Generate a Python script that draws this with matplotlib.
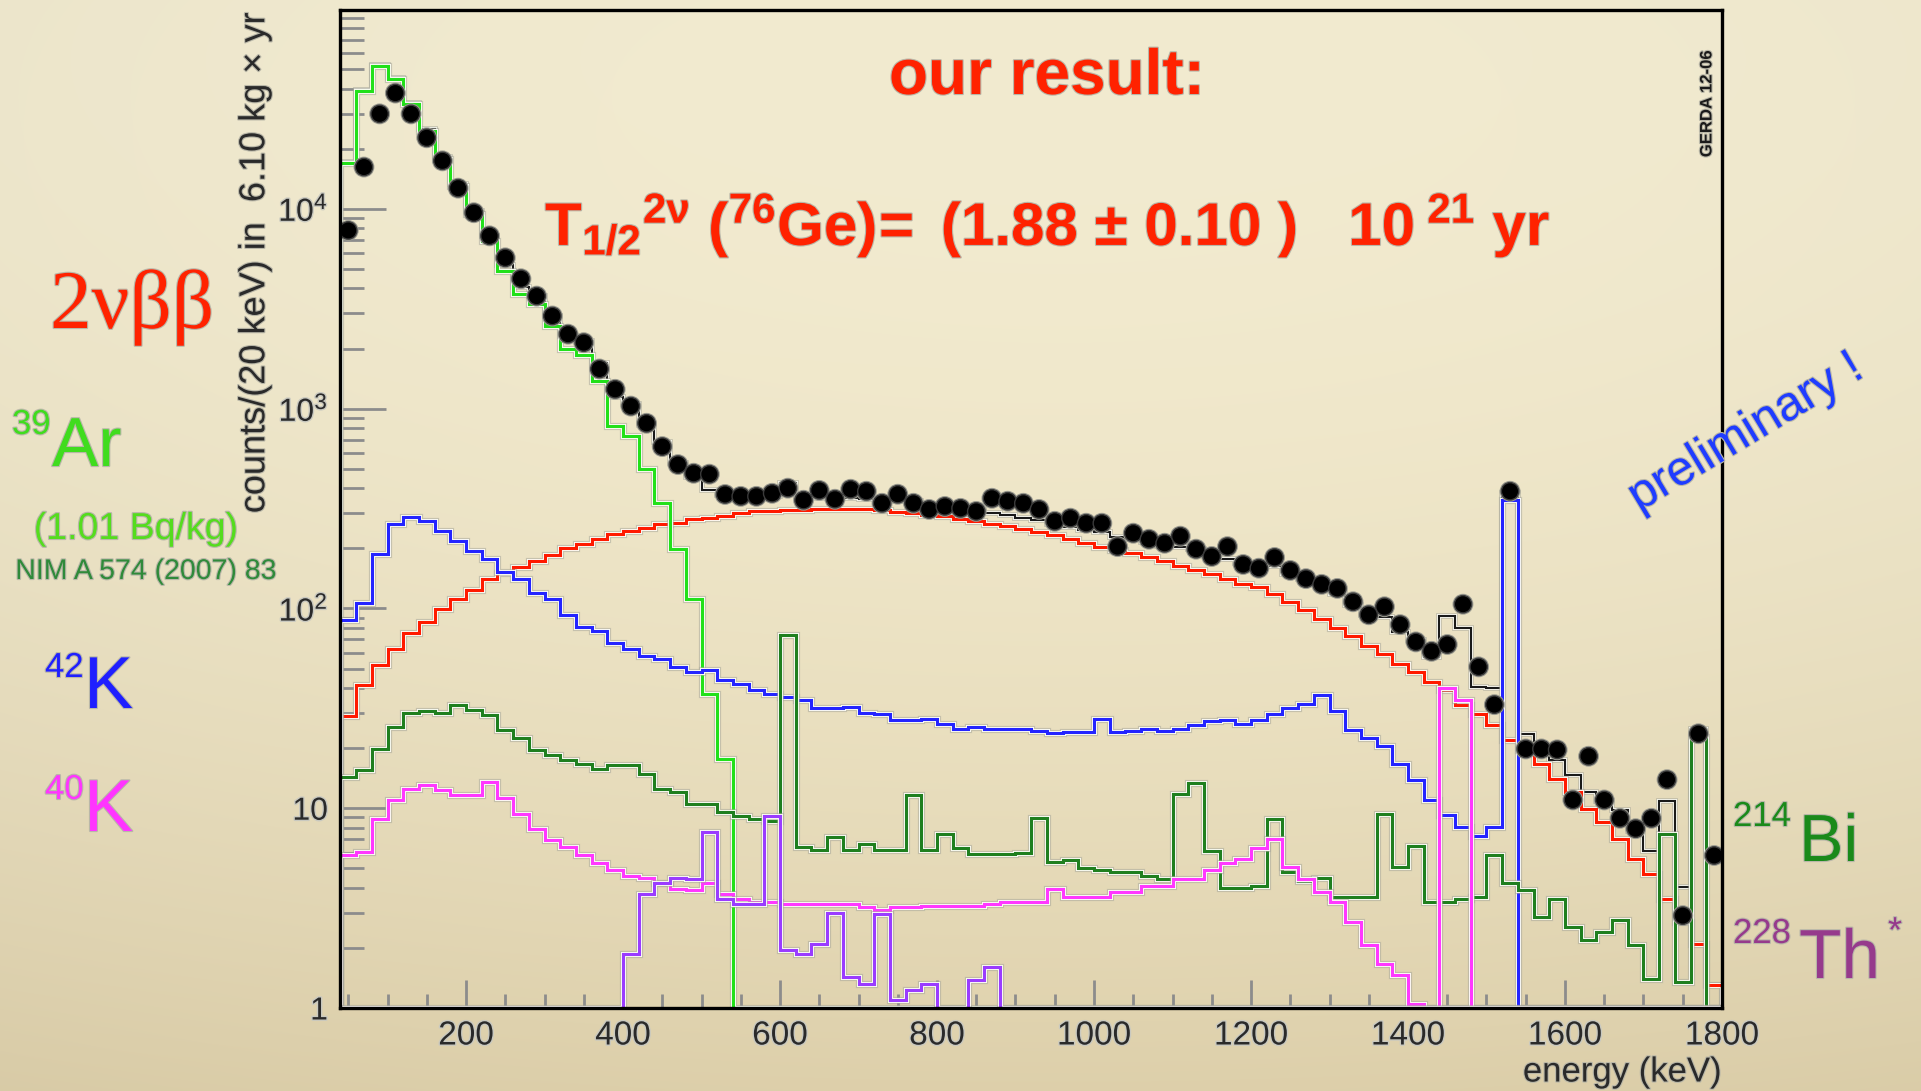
import numpy as np
import matplotlib
matplotlib.use("Agg")
import matplotlib.pyplot as plt
import matplotlib.patheffects as pe
from matplotlib.ticker import FixedLocator, FuncFormatter, NullFormatter

plt.rcParams['font.family'] = ['Liberation Sans', 'DejaVu Sans']
plt.rcParams['mathtext.fontset'] = 'custom'
plt.rcParams['mathtext.rm'] = 'Liberation Sans'
plt.rcParams['mathtext.bf'] = 'Liberation Sans:bold'
plt.rcParams['mathtext.it'] = 'Liberation Sans:italic'
plt.rcParams['mathtext.sf'] = 'Liberation Sans'

# ---- spectrum: 20 keV bins from 40 to 1800 keV ----
bin_edges = np.arange(40, 1801, 20)
bin_centers = 0.5 * (bin_edges[:-1] + bin_edges[1:])

counts_data = [
    7800, 16200, 29900, 38000, 29900, 22700, 17400, 12700, 9570, 7330,
    5690, 4470, 3660, 2910, 2360, 2140, 1580, 1250, 1030, 845,
    646, 525, 475, 470, 372, 364, 364, 377, 400, 348,
    390, 352, 395, 386, 336, 373, 336, 313, 324, 317,
    306, 356, 344, 336, 313, 273, 283, 267, 267, 204,
    238, 222, 212, 230, 198, 182, 204, 166, 159, 180,
    155, 141, 132, 126, 108, 93, 102, 83, 68, 61,
    66, 105, 51, 33, 386, 19.8, 19.8, 19.6, 11, 18.2,
    11, 8.9, 7.9, 8.9, 13.9, 2.9, 23.6, 5.8]

bb2nu = [
    29, 41.5, 52, 63, 75, 86, 99, 112, 124, 140,
    150, 162, 172, 186, 200, 209, 222, 235, 243, 252,
    265, 267, 279, 285, 290, 299, 306, 308, 310, 310,
    313, 313, 313, 313, 310, 305, 300, 295, 290, 282,
    274, 266, 258, 250, 240, 232, 222, 213, 204, 196,
    189, 181, 172, 163, 155, 148, 140, 133, 128, 118,
    108, 98, 89, 80, 73, 65, 59, 53, 48, 43,
    39, 33, 29.5, 26, 22, 19.6, 16.7, 14, 12.1, 9.9,
    8.5, 7.0, 5.6, 4.7, 3.5, 2.7, 2.1, 1.3]

ar39 = [17000, 39000, 52000, 44900, 33600, 24600, 17800, 13000, 9440, 6920,
        4900, 3750, 3340, 2590, 2000, 1860, 1370, 818, 728, 500,
        336, 198, 111, 37.5, 17.7] + [0] * 63

k42 = [
    88, 106, 187, 265, 286, 273, 243, 217, 193, 176,
    153, 141, 119, 111, 93, 81, 77, 67, 63, 57.5,
    55.6, 51, 48, 49, 44, 42, 39, 37.5, 36, 35,
    31.6, 31.6, 32, 29.8, 29.5, 27.7, 27.7, 28, 26.5, 25,
    25.6, 25, 25, 25, 24.4, 23.7, 24.2, 24.2, 28, 24.2,
    24.4, 25, 24.4, 25, 26.2, 27.2, 27.5, 26.5, 27.5, 29.5,
    31.6, 33.4, 37, 30.5, 24.6, 22.4, 20.4, 16.7, 13.9, 11,
    9.3, 8.1, 7.3, 8.1, 350, 0, 0, 0, 0, 0,
    0, 0, 0, 0, 0, 0, 0, 0]

k40 = [
    5.8, 6.05, 8.8, 11, 12.5, 13.1, 12.4, 11.7, 11.7, 13.6,
    11.2, 9.4, 7.9, 6.95, 6.4, 5.8, 5.3, 4.9, 4.6, 4.5,
    4.2, 3.95, 3.9, 4.2, 3.7, 3.5, 3.4, 3.4, 3.3, 3.3,
    3.3, 3.3, 3.3, 3.2, 3.1, 3.2, 3.2, 3.25, 3.25, 3.25,
    3.25, 3.3, 3.4, 3.4, 3.4, 3.95, 3.6, 3.6, 3.6, 3.8,
    3.8, 4.1, 4.1, 4.4, 4.4, 4.9, 5.3, 5.6, 6.3, 7.0,
    5.1, 4.4, 3.8, 3.4, 2.7, 2.07, 1.66, 1.46, 1.05, 0,
    40, 35, 0, 0, 0, 0, 0, 0, 0, 0,
    0, 0, 0, 0, 0, 0, 0, 0]

bi214 = [
    14.4, 15.6, 19.9, 25.6, 29.8, 30.5, 29.8, 33, 31.2, 29.4,
    24.7, 22.4, 19.6, 18.5, 17.5, 16.7, 15.8, 16.5, 16.5, 14.9,
    12.5, 12.1, 10.5, 10.5, 9.6, 9.1, 8.8, 8.6, 74, 6.4,
    6.2, 7.2, 6.2, 6.6, 6.2, 6.2, 11.7, 6.2, 7.4, 6.3,
    5.9, 5.9, 5.9, 6.0, 8.9, 5.4, 5.5, 5.0, 4.9, 4.8,
    4.8, 4.6, 4.4, 11.8, 13.3, 6.1, 4.0, 4.0, 4.1, 8.8,
    4.8, 4.3, 4.5, 3.6, 3.6, 3.6, 9.4, 5.1, 6.5, 3.4,
    3.4, 3.5, 3.6, 5.8, 4.2, 3.9, 2.86, 3.5, 2.55, 2.2,
    2.4, 2.76, 2.07, 1.4, 7.4, 1.35, 22.8, 0]

th228 = [0] * 18 + [
    1.86, 3.7, 4.2, 4.5, 4.4, 7.6, 3.5, 3.3, 3.3, 9.1,
    1.95, 1.86, 2.1, 3.0, 1.43, 1.32, 2.96, 1.1, 1.23, 1.32,
    0, 0, 1.38, 1.6] + [0] * 46

components = [
    (bb2nu, '#ff1a00'),
    (ar39, '#22e01a'),
    (k42, '#2424ff'),
    (bi214, '#1f7f1f'),
    (k40, '#ff38ff'),
    (th228, '#9a3cff'),
]
model_total = np.sum([np.asarray(c, float) for c, _ in components], axis=0)

y_min, y_max = 1.0, 9.9e4
x_min, x_max = 40, 1800

# ---- figure and parchment backdrop ----
W, H = 1921, 1091
fig = plt.figure(figsize=(W / 100, H / 100), dpi=100)

yy, xx = np.mgrid[0:H, 0:W]
t = yy / (H - 1)
s = xx / (W - 1)
top_col = np.array([243, 236, 209]) / 255.0
bot_col = np.array([226, 212, 174]) / 255.0
shade = (t ** 1.8)[..., None]
bg = top_col * (1 - shade) + bot_col * shade
vign = (((s - 0.55) / 0.75) ** 2 + ((t - 0.35) / 0.9) ** 2)[..., None]
bg = bg * (1 - 0.04 * vign)
bg_ax = fig.add_axes([0, 0, 1, 1], zorder=-10)
bg_ax.imshow(np.clip(bg, 0, 1), aspect='auto', extent=[0, 1, 0, 1])
bg_ax.axis('off')

ax = fig.add_axes([340.4 / W, 1 - 1008 / H, (1722 - 340.4) / W, (1008 - 10) / H])
ax.patch.set_alpha(0)
ax.set_yscale('log')
ax.set_xlim(x_min, x_max)
ax.set_ylim(y_min, y_max)

halo = [pe.Stroke(linewidth=5.2, foreground='#a8a89c', alpha=0.55),
        pe.Stroke(linewidth=3.6, foreground='#fbfbf3'),
        pe.Normal()]
halo_thin = [pe.Stroke(linewidth=4.2, foreground='#a8a89c', alpha=0.55),
             pe.Stroke(linewidth=2.8, foreground='#fbfbf3'),
             pe.Normal()]

# full model
ax.stairs(np.clip(model_total, y_min, None), bin_edges, baseline=y_min,
          color='#1a1a1a', lw=1.5, zorder=3, path_effects=halo_thin)
# individual contributions
for vals, col in components:
    ax.stairs(np.clip(np.asarray(vals, float), y_min, None), bin_edges,
              baseline=y_min, color=col, lw=2.2, zorder=4, path_effects=halo)
# measured spectrum
ax.plot(bin_centers, counts_data, 'o', color='black', ms=12.5, mec='#3a3a3a',
        mew=1.0, zorder=6,
        path_effects=[pe.Stroke(linewidth=2.5, foreground='#9a9a90'), pe.Normal()])

# ---- axes styling ----
for sp in ax.spines.values():
    sp.set_linewidth(2.4)
    sp.set_color('black')
    sp.set_zorder(7)

ax.xaxis.set_major_locator(FixedLocator([200, 400, 600, 800, 1000, 1200, 1400, 1600, 1800]))
ax.xaxis.set_minor_locator(FixedLocator(np.arange(50, 1800, 50)))
ax.yaxis.set_major_locator(FixedLocator([1, 10, 100, 1000, 10000]))
minor_y = [m * 10 ** d for d in range(0, 5) for m in range(2, 10)]
ax.yaxis.set_minor_locator(FixedLocator(minor_y))
ax.yaxis.set_minor_formatter(NullFormatter())


def ylab(v, pos):
    if v < 5:
        return '1'
    if v < 50:
        return '10'
    return r'$10^{%d}$' % int(round(np.log10(v)))


ax.yaxis.set_major_formatter(FuncFormatter(ylab))
ax.tick_params(axis='both', which='both', direction='in', color='#8c8c8c',
               top=False, right=False, labelcolor='#2a2a2a')
ax.tick_params(axis='x', which='major', length=20, width=2.0, labelsize=24, pad=9)
ax.tick_params(axis='x', which='minor', length=10, width=2.0)
ax.tick_params(axis='y', which='major', length=33, width=2.0, labelsize=23, pad=9)
ax.tick_params(axis='y', which='minor', length=17, width=2.0)
for lab in ax.get_xticklabels() + ax.get_yticklabels():
    lab.set_path_effects([pe.withStroke(linewidth=2.0, foreground='#c9c9c0')])


def fx(px):
    return px / W


def fy(py):
    return 1 - py / H


soft = [pe.withStroke(linewidth=1.6, foreground='#b9b7a8')]

fig.text(fx(255), fy(262), r'counts/(20 keV) in  6.10 kg $\times$ yr', rotation=90,
         ha='center', va='center', fontsize=26, color='#2a2a2a', path_effects=soft)
fig.text(fx(1722), fy(1072), 'energy (keV)', ha='right', va='center',
         fontsize=25, color='#2a2a2a', path_effects=soft)

# ---- annotations ----
red = '#ff2200'
fig.text(fx(1047), fy(94), 'our result:', ha='center', va='baseline',
         fontsize=46, fontweight='bold', color=red, path_effects=soft)
fig.text(fx(545), fy(245),
         r'$\mathbf{T_{1/2}{}^{2ν}\ (^{76}Ge)\!=\ (1.88\ ±\ 0.10\ )\ \ \ 10^{\ 21}\ yr}$',
         ha='left', va='baseline', fontsize=43.3, color=red, path_effects=soft)
fig.text(fx(50), fy(328), '2νββ', ha='left', va='baseline', fontsize=60,
         family=['Liberation Serif', 'DejaVu Serif'], color=red, path_effects=soft)


def isotope(x_num, y_top, x_sym, y_base, num, sym, col, num_size, sym_size):
    fig.text(fx(x_num), fy(y_top), num, ha='left', va='top', fontsize=num_size,
             color=col, path_effects=soft)
    fig.text(fx(x_sym), fy(y_base), sym, ha='left', va='baseline', fontsize=sym_size,
             color=col, path_effects=soft)


isotope(12, 408, 52, 466, '39', 'Ar', '#40dc1e', 25, 50)
isotope(45, 651, 84, 708, '42', 'K', '#1f1fff', 25, 53)
isotope(45, 773, 84, 831, '40', 'K', '#ff35ff', 25, 53)
isotope(1733, 800, 1799, 861, '214', 'Bi', '#1a8a1a', 25, 48)
isotope(1733, 917, 1799, 978, '228', 'Th', '#963a8c', 25, 50)
fig.text(fx(1895), fy(915), '*', ha='center', va='top', fontsize=26,
         color='#963a8c', path_effects=soft)

fig.text(fx(136), fy(529), '(1.01 Bq/kg)', ha='center', va='center', fontsize=27,
         color='#55dc1e', path_effects=soft)
fig.text(fx(146), fy(572), 'NIM A 574 (2007) 83', ha='center', va='center', fontsize=20.5,
         color='#2f8a3a', path_effects=soft)
fig.text(fx(1746), fy(433), 'preliminary !', ha='center', va='center', rotation=31,
         fontsize=35, color='#1f3cff', path_effects=soft, rotation_mode='anchor')
fig.text(fx(1707), fy(104), 'GERDA 12-06', ha='center', va='center', rotation=90,
         fontsize=12, fontweight='bold', color='#1a1a1a', path_effects=soft)

fig.savefig('out.png', dpi=100)
